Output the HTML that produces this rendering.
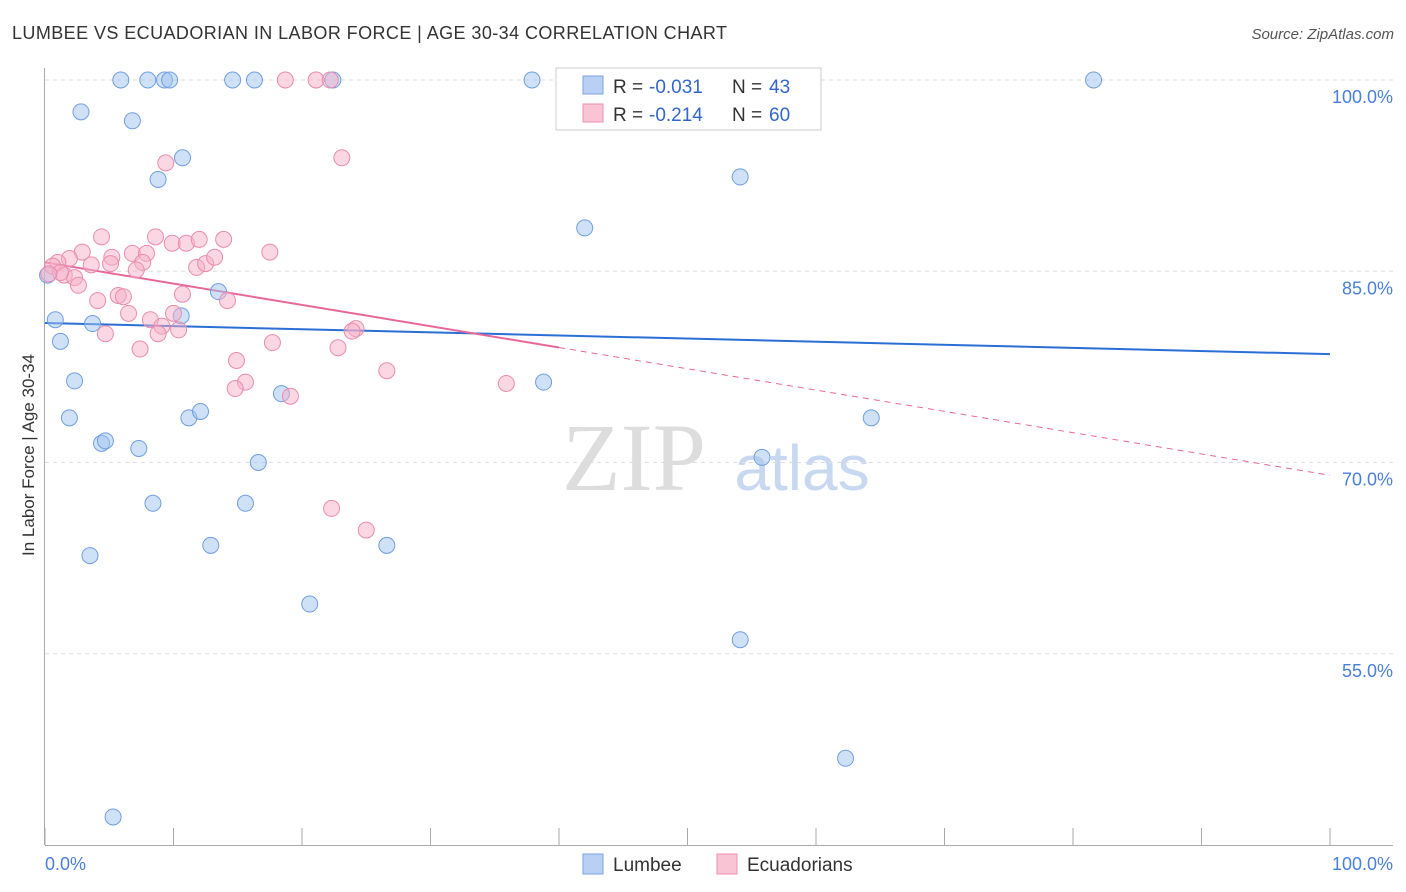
<!DOCTYPE html>
<html><head><meta charset="utf-8"><style>
body{margin:0;background:#fff;font-family:"Liberation Sans",sans-serif;}
svg{display:block}
</style></head><body>
<svg id="chart" width="1406" height="892">
<text x="12" y="39" font-size="18" fill="#333" textLength="715">LUMBEE VS ECUADORIAN IN LABOR FORCE | AGE 30-34 CORRELATION CHART</text>
<text x="1394" y="39" font-size="15" fill="#555" font-style="italic" text-anchor="end">Source: ZipAtlas.com</text>
<text transform="translate(34,455) rotate(-90)" font-size="17" fill="#333" text-anchor="middle">In Labor Force | Age 30-34</text>
<text x="634" y="490" font-size="96" fill="#ddd" font-family="Liberation Serif,serif" text-anchor="middle">ZIP</text>
<text x="802" y="490" font-size="64" fill="#c8d8f0" text-anchor="middle">atlas</text>
<g id="grid"></g><g id="axes"></g><g id="lines"></g><g id="pts"></g>
<g>
<rect x="556" y="68" width="265" height="62" fill="#fff" stroke="#ccc"/>
<rect x="583" y="76" width="20" height="18" fill="#b8d0f4" stroke="#7aa3e0"/>
<rect x="583" y="104" width="20" height="18" fill="#f9c4d4" stroke="#ec8fae"/>
<text x="613" y="93" font-size="19" fill="#333">R =</text>
<text x="649" y="93" font-size="19" fill="#3366cc">-0.031</text>
<text x="732" y="93" font-size="19" fill="#333">N =</text>
<text x="769" y="93" font-size="19" fill="#3366cc">43</text>
<text x="613" y="121" font-size="19" fill="#333">R =</text>
<text x="649" y="121" font-size="19" fill="#3366cc">-0.214</text>
<text x="732" y="121" font-size="19" fill="#333">N =</text>
<text x="769" y="121" font-size="19" fill="#3366cc">60</text>
</g>
<g>
<rect x="583" y="854" width="20" height="20" fill="#b8d0f4" stroke="#7aa3e0"/>
<text x="613" y="871" font-size="19" fill="#333">Lumbee</text>
<rect x="717" y="854" width="20" height="20" fill="#f9c4d4" stroke="#ec8fae"/>
<text x="747" y="871" font-size="19" fill="#333">Ecuadorians</text>
</g>
</svg>
<script>
const yTicks=[100,85,70,55];
const yTickLabels=["100.0%","85.0%","70.0%","55.0%"];
const lumbeeX=[5.9,8.0,9.3,9.7,14.6,16.3,22.4,37.9,81.6,2.8,6.8,10.7,8.8,54.1,42.0,13.5,0.8,3.7,10.6,1.2,2.3,38.8,1.9,11.2,12.1,18.4,4.4,4.7,7.3,64.3,16.6,55.8,8.4,15.6,3.5,12.9,26.6,20.6,54.1,62.3,5.3,0.2];
const lumbeeY=[100,100,100,100,100,100,100,100,100,97.5,96.8,93.9,92.2,92.4,88.4,83.4,81.2,80.9,81.5,79.5,76.4,76.3,73.5,73.5,74.0,75.4,71.5,71.7,71.1,73.5,70.0,70.4,66.8,66.8,62.7,63.5,63.5,58.9,56.1,46.8,42.2,84.7];
const ecuX=[18.7,21.1,22.2,9.4,23.1,4.4,8.6,9.9,11.0,12.0,13.9,17.5,6.8,7.9,2.9,5.2,1.9,1.0,0.6,3.6,5.1,7.6,11.8,12.5,13.2,7.1,1.5,2.3,1.2,2.6,5.7,6.1,4.1,10.7,14.2,6.5,8.2,9.1,10.0,10.4,8.8,4.7,7.4,17.7,22.8,24.2,23.9,14.9,15.6,14.8,19.1,26.6,35.9,22.3,25.0,0.3];
const ecuY=[100,100,100,93.5,93.9,87.7,87.7,87.2,87.2,87.5,87.5,86.5,86.4,86.4,86.5,86.1,86.0,85.7,85.4,85.5,85.6,85.7,85.3,85.6,86.1,85.1,84.7,84.5,84.9,83.9,83.1,83.0,82.7,83.2,82.7,81.7,81.2,80.7,81.7,80.4,80.1,80.1,78.9,79.4,79.0,80.5,80.3,78.0,76.3,75.8,75.2,77.2,76.2,66.4,64.7,84.8];
const lumbeeTrend=[80.94,78.5];
const ecuTrend=[85.7,69.0];
const NS="http://www.w3.org/2000/svg";
const X=v=>45+v*12.85, Y=v=>80+(100-v)*12.75;
function mk(tag,at,parent){const e=document.createElementNS(NS,tag);for(const k in at)e.setAttribute(k,at[k]);document.getElementById(parent).appendChild(e);return e;}
yTicks.forEach((t,i)=>{
 const l=mk('line',{x1:45,x2:1393,y1:Y(t),y2:Y(t),stroke:'#ddd','stroke-dasharray':'4,4'},'grid');
 
 
 const tx=mk('text',{x:1393,y:Y(t)+23,'font-size':18,fill:'#4a7fd8','text-anchor':'end'},'grid');
 tx.textContent=yTickLabels[i];
 
 
});
let ax=mk('line',{x1:44.5,x2:44.5,y1:68,y2:845,stroke:'#aaa'},'axes');


ax=mk('line',{x1:45,x2:1393,y1:845.5,y2:845.5,stroke:'#aaa'},'axes');


for(let i=0;i<=10;i++){const t=mk('line',{x1:X(i*10),x2:X(i*10),y1:828,y2:845,stroke:'#aaa'},'axes');
 
 }
let t0=mk('text',{x:45,y:870,'font-size':18,fill:'#4a7fd8'},'axes');t0.textContent='0.0%';


t0=mk('text',{x:1393,y:870,'font-size':18,fill:'#4a7fd8','text-anchor':'end'},'axes');t0.textContent='100.0%';


let ln=mk('line',{x1:X(0),y1:Y(lumbeeTrend[0]),x2:X(100),y2:Y(lumbeeTrend[1]),stroke:'#2a6fd6','stroke-width':2},'lines');


const ey=x=>ecuTrend[0]+(ecuTrend[1]-ecuTrend[0])*x/100;
ln=mk('line',{x1:X(0),y1:Y(ey(0)),x2:X(40),y2:Y(ey(40)),stroke:'#e8679a','stroke-width':2},'lines');


ln=mk('line',{x1:X(40),y1:Y(ey(40)),x2:X(100),y2:Y(ey(100)),stroke:'#e8679a','stroke-width':1,'stroke-dasharray':'6,5'},'lines');


lumbeeX.forEach((x,i)=>{const c=mk('circle',{cx:X(x),cy:Y(lumbeeY[i]),r:8,fill:'rgba(160,195,240,0.5)',stroke:'#6f9ee0','stroke-width':1},'pts');
 
 });
ecuX.forEach((x,i)=>{const c=mk('circle',{cx:X(x),cy:Y(ecuY[i]),r:8,fill:'rgba(245,175,200,0.5)',stroke:'#ea8cac','stroke-width':1},'pts');
 
 });
</script>
</body></html>
